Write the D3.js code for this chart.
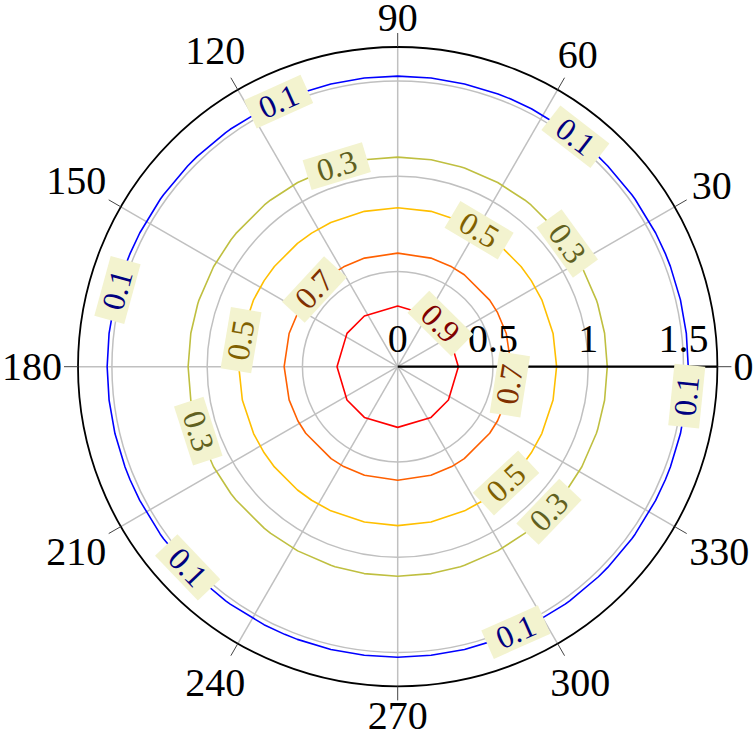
<!DOCTYPE html>
<html><head><meta charset="utf-8">
<script src="https://cdn.jsdelivr.net/npm/d3@7"></script>
<style>html,body{margin:0;padding:0;background:#fff;} svg{display:block;}</style>
</head><body><svg id="c" width="755" height="733"></svg>
<script>
// ---- data ----
const levels = [0.1, 0.3, 0.5, 0.7, 0.9];
const levelRadius = [1.525, 1.10, 0.834, 0.596, 0.3185];
const angles01 = [0,6.6,13.3,20.2,22.9,27.4,35.2,36.3,43.7,46.3,53.7,54.8,62.6,67.1,69.8,76.7,83.4,
  90,96.6,103.3,110.2,112.9,117.4,125.2,126.3,133.7,136.3,143.7,144.8,152.6,157.1,159.8,166.7,173.4,
  180,186.6,193.3,200.2,202.9,207.4,215.2,216.3,223.7,226.3,233.7,234.8,242.6,247.1,249.8,256.7,263.4,
  270,276.6,283.3,290.2,292.9,297.4,305.2,306.3,313.7,316.3,323.7,324.8,332.6,337.1,339.8,346.7,353.4];
const angles03 = [0,9.2,17.4,18.6,28.5,37.3,39.5,50.5,52.7,61.5,71.4,72.6,80.8,
  90,99.2,107.4,108.6,118.5,127.3,129.5,140.5,142.7,151.5,161.4,162.6,170.8,
  180,189.2,197.4,198.6,208.5,217.3,219.5,230.5,232.7,241.5,251.4,252.6,260.8,
  270,279.2,287.4,288.6,298.5,307.3,309.5,320.5,322.7,331.5,341.4,342.6,350.8];
const angles05 = [0,12.1,24.9,32.8,39.1,50.9,57.2,65.1,77.9,
  90,102.1,114.9,122.8,129.1,140.9,147.2,155.1,167.9,
  180,192.1,204.9,212.8,219.1,230.9,237.2,245.1,257.9,
  270,282.1,294.9,302.8,309.1,320.9,327.2,335.1,347.9];
const angles07 = [0,17,28.4,35.9,54.1,61.6,73, 90,107,118.4,125.9,144.1,151.6,163,
  180,197,208.4,215.9,234.1,241.6,253, 270,287,298.4,305.9,324.1,331.6,343];
const angles09 = [0,33.3,56.7,90,123.3,146.7,180,213.3,236.7,270,303.3,326.7];
const contourAngles = [angles01, angles03, angles05, angles07, angles09];

const labelLevels = [0.1,0.1,0.1,0.1,0.1,0.1, 0.3,0.3,0.3,0.3, 0.5,0.5,0.5, 0.7,0.7, 0.9];
const labelAngles = [114.2,52.3,164.7,223.7,294,354.2, 106.9,36,197.9,316.2, 59.2,170.4,313, 137.2,351, 45.3];

const angleTicks = [0,30,60,90,120,150,180,210,240,270,300,330];
const radialTicks = [0, 0.5, 1, 1.5];
const radialTickLabels = ["0", "0.5", "1", "1.5"];
const radialGrid = [0.5, 1, 1.5];
const rMax = 1.678;

// ---- styles ----
const lineColors = ["#0000ff", "#bfbf40", "#ffbf00", "#ff6000", "#ff0000"];
const textColors = ["#000080", "#606020", "#806000", "#803000", "#800000"];
const FONT = "'Liberation Serif','DejaVu Serif',serif";
const cx = 397.7, cy = 366.7, R = 319.7;

const svg = d3.select("#c");
const g = svg.append("g").attr("transform", `translate(${cx},${cy})`);
const r = d3.scaleLinear().domain([0, rMax]).range([0, R]);
const ang = d3.scaleLinear().domain([0, 360]).range([Math.PI/2, Math.PI/2 - 2*Math.PI]);

// grid circles
g.selectAll("circle.grid").data(radialGrid).join("circle")
  .attr("r", d => r(d)).attr("fill", "none").attr("stroke", "#c0c0c0").attr("stroke-width", 1.5);
// spokes
g.selectAll("line.spoke").data(angleTicks).join("line")
  .attr("x1", 0).attr("y1", 0)
  .attr("x2", d => d3.pointRadial(ang(d), R)[0])
  .attr("y2", d => d3.pointRadial(ang(d), R)[1])
  .attr("stroke", "#c0c0c0").attr("stroke-width", 1.5);

// contours
const line = d3.lineRadial().curve(d3.curveLinearClosed);
levels.forEach((lv, i) => {
  g.append("path")
    .attr("d", line.angle(d => ang(d)).radius(() => r(levelRadius[i]))(contourAngles[i]))
    .attr("fill", "none").attr("stroke", lineColors[i]).attr("stroke-width", 1.6)
    .attr("stroke-linejoin", "round");
});

// outer circle
g.append("circle").attr("r", r(rMax)).attr("fill", "none").attr("stroke", "#000").attr("stroke-width", 1.8);
// outward ticks
g.selectAll("line.tick").data(angleTicks).join("line")
  .attr("x1", d => d3.pointRadial(ang(d), R)[0])
  .attr("y1", d => d3.pointRadial(ang(d), R)[1])
  .attr("x2", d => d3.pointRadial(ang(d), R + 14)[0])
  .attr("y2", d => d3.pointRadial(ang(d), R + 14)[1])
  .attr("stroke", "#444").attr("stroke-width", 1);

// radial axis line
g.append("line").attr("x1", 0).attr("y1", 0).attr("x2", r(rMax)).attr("y2", 0)
  .attr("stroke", "#000").attr("stroke-width", 2.2);

// radial tick labels
g.selectAll("text.rt").data(radialTicks).join("text")
  .attr("x", d => r(d)).attr("y", -15)
  .attr("text-anchor", "middle").attr("font-family", FONT).attr("font-size", 40)
  .text((d, i) => radialTickLabels[i]);

// angle tick labels
const fs = 40, gap = 8, pad = 8, hh = 0.66 * fs / 2;
angleTicks.forEach(a => {
  const t = g.append("text").attr("font-family", FONT).attr("font-size", fs)
    .attr("text-anchor", "middle").text(String(a));
  const w = t.node().getComputedTextLength();
  const th = a * Math.PI / 180;
  const off = gap + (w/2 + pad) * Math.abs(Math.cos(th)) + (hh + pad) * Math.abs(Math.sin(th));
  const p = d3.pointRadial(ang(a), R + off);
  t.attr("x", p[0]).attr("y", p[1] + hh);
});

// contour labels
labelLevels.forEach((lv, k) => {
  const i = levels.indexOf(lv);
  const a = labelAngles[k];
  const p = d3.pointRadial(ang(a), r(levelRadius[i]));
  let rot = 90 - a;
  while (rot > 90) rot -= 180;
  while (rot <= -90) rot += 180;
  const lg = g.append("g").attr("transform", `translate(${p[0]},${p[1]}) rotate(${rot})`);
  const rect = lg.append("rect").attr("fill", "#f3f3cf");
  const t = lg.append("text").attr("font-family", FONT).attr("font-size", 32)
    .attr("text-anchor", "middle").attr("y", 10.5).attr("fill", textColors[i]).text(String(lv));
  const w = t.node().getComputedTextLength() + 22;
  rect.attr("x", -w/2).attr("y", -15.5).attr("width", w).attr("height", 31);
});
</script></body></html>
